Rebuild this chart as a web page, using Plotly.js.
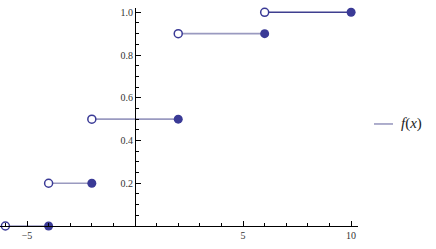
<!DOCTYPE html>
<html><head><meta charset="utf-8">
<script src="https://cdn.plot.ly/plotly-3.0.1.min.js"></script>
<style>html,body{margin:0;padding:0;background:#fff}#c{width:436px;height:249px}</style>
</head><body><div id="c"></div>
<script>
const segStart = [-6, -4, -2, 2, 6];
const segEnd   = [-4, -2, 2, 6, 10];
const segValue = [0, 0.2, 0.5, 0.9, 1.0];
const xTickVals = [-5, 5, 10];
const xTickText = ['\u22125', '5', '10'];
const yTickVals = [0.2, 0.4, 0.6, 0.8, 1.0];
const yTickText = ['0.2', '0.4', '0.6', '0.8', '1.0'];
const legendLabel = '<i>f</i>(<i>x</i>)';

const lineColor = '#9a9ac0';
const darkLine = '#3f3f8f';
const markColor = '#3a3a96';

const lx = [], ly = [];
for (let i = 0; i < segStart.length - 1; i++) {
  lx.push(segStart[i], segEnd[i], null);
  ly.push(segValue[i], segValue[i], null);
}
const n = segStart.length - 1;
const traces = [
  {x: lx, y: ly, mode: 'lines', line: {color: lineColor, width: 1.6}, name: legendLabel, showlegend: false, cliponaxis: false},
  {x: [segStart[n], segEnd[n]], y: [segValue[n], segValue[n]], mode: 'lines', line: {color: darkLine, width: 1.3}, showlegend: false, cliponaxis: false},
  {x: segStart, y: segValue, mode: 'markers', marker: {symbol: 'circle', size: 8, color: '#ffffff', line: {color: markColor, width: 1.5}}, showlegend: false, cliponaxis: false},
  {x: segEnd, y: segValue, mode: 'markers', marker: {symbol: 'circle', size: 9, color: markColor, line: {width: 0}}, showlegend: false, cliponaxis: false}
];

const tickFont = {family: 'Liberation Serif, serif', size: 10, color: '#333'};
const layout = {
  width: 436, height: 249,
  margin: {l: 0, r: 78, t: 8, b: 23},
  paper_bgcolor: '#fff', plot_bgcolor: '#fff',
  showlegend: false,
  shapes: [
    {type: 'line', xref: 'paper', yref: 'paper', x0: 374 / 358, x1: 393 / 358, y0: 0.468, y1: 0.468, line: {color: lineColor, width: 1.6}}
  ],
  annotations: [
    {xref: 'paper', yref: 'paper', x: 399 / 358, y: 0.468, xanchor: 'left', yanchor: 'middle', showarrow: false, text: legendLabel, font: {family: 'Liberation Serif, serif', size: 15, color: '#222'}}
  ],
  xaxis: {
    range: [-6.25, 10.32], showgrid: false, zeroline: false,
    showline: true, linecolor: '#000', linewidth: 1,
    tickmode: 'array', tickvals: xTickVals, ticktext: xTickText,
    ticks: 'inside', ticklen: 5, tickcolor: '#000', tickwidth: 1,
    minor: {tickmode: 'linear', tick0: 0, dtick: 1, ticks: 'inside', ticklen: 3, tickcolor: '#000', showgrid: false},
    tickfont: tickFont, fixedrange: true
  },
  yaxis: {
    range: [0, 1.02], showgrid: false, zeroline: false,
    anchor: 'free', position: 135 / 358, side: 'left',
    showline: true, linecolor: '#000', linewidth: 1,
    tickmode: 'array', tickvals: yTickVals, ticktext: yTickText,
    ticks: 'inside', ticklen: 5, tickcolor: '#000', tickwidth: 1,
    minor: {tickmode: 'linear', tick0: 0, dtick: 0.05, ticks: 'inside', ticklen: 3, tickcolor: '#000', showgrid: false},
    tickfont: tickFont, fixedrange: true
  }
};
Plotly.newPlot('c', traces, layout, {displayModeBar: false, staticPlot: true});
</script></body></html>
